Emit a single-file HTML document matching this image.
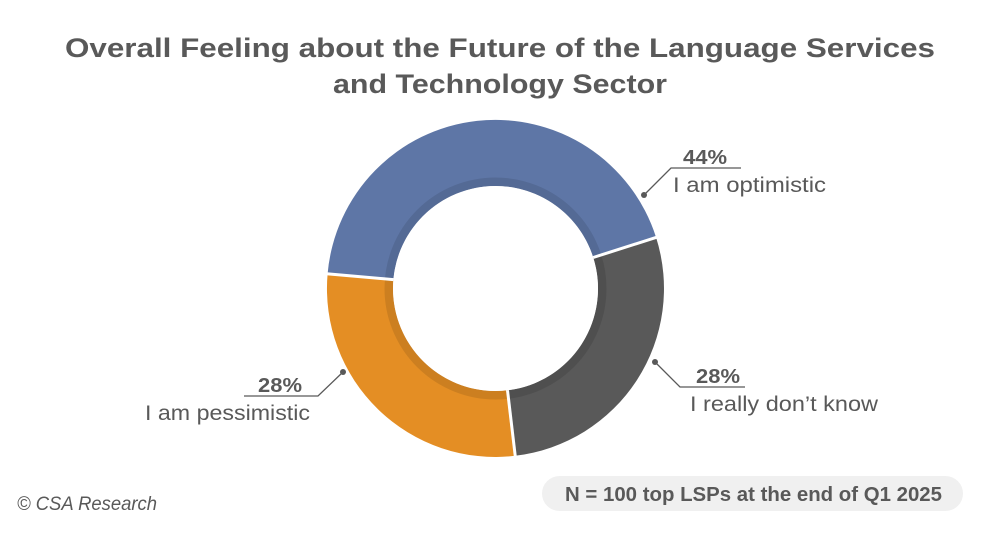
<!DOCTYPE html>
<html><head><meta charset="utf-8"><style>
body{margin:0;background:#fff;width:1000px;height:530px;overflow:hidden}
svg text{font-family:"Liberation Sans","DejaVu Sans",sans-serif;fill:#595959}
</style></head><body>
<svg width="1000" height="530" viewBox="0 0 1000 530">
<text x="65" y="57" font-size="27" font-weight="bold" textLength="870" lengthAdjust="spacingAndGlyphs">Overall Feeling about the Future of the Language Services</text>
<text x="333" y="93" font-size="27" font-weight="bold" textLength="334" lengthAdjust="spacingAndGlyphs">and Technology Sector</text>
<g transform="translate(495.5,288.5)">
<path d="M -167.9 -14.7 A 168.5 168.5 0 0 1 160.6 -51.0 L 97.7 -31.0 A 102.5 102.5 0 0 0 -102.1 -8.9 Z" fill="#5e76a6"/>
<path d="M 160.6 -51.0 A 168.5 168.5 0 0 1 19.7 167.3 L 12.0 101.8 A 102.5 102.5 0 0 0 97.7 -31.0 Z" fill="#595959"/>
<path d="M 19.7 167.3 A 168.5 168.5 0 0 1 -167.9 -14.7 L -102.1 -8.9 A 102.5 102.5 0 0 0 12.0 101.8 Z" fill="#e48e24"/>
<circle r="106.5" fill="none" stroke="#000" stroke-opacity="0.1" stroke-width="9"/>
<g stroke="#fff" stroke-width="3">
<line x1="-102.1" y1="-8.9" x2="-168.9" y2="-14.8"/>
<line x1="97.7" y1="-31.0" x2="161" y2="-51.2"/>
<line x1="12.0" y1="101.8" x2="19.8" y2="168"/>
</g>
<circle r="102.5" fill="#fff"/>
</g>
<g stroke="#595959" stroke-width="1.3" fill="none">
<polyline points="644,195 671,168 741,168"/>
<polyline points="655,362 680,387 745,387"/>
<polyline points="343,372 318,396 244,396"/>
</g>
<g fill="#595959"><circle cx="644" cy="195" r="3"/><circle cx="655" cy="362" r="3"/><circle cx="343" cy="372" r="3"/></g>
<text x="683" y="164" font-size="20" font-weight="bold" textLength="44" lengthAdjust="spacingAndGlyphs">44%</text>
<text x="673" y="192" font-size="21" textLength="153" lengthAdjust="spacingAndGlyphs">I am optimistic</text>
<text x="696" y="383" font-size="20" font-weight="bold" textLength="44" lengthAdjust="spacingAndGlyphs">28%</text>
<text x="690" y="411" font-size="21" textLength="188" lengthAdjust="spacingAndGlyphs">I really don’t know</text>
<text x="258" y="392" font-size="20" font-weight="bold" textLength="44" lengthAdjust="spacingAndGlyphs">28%</text>
<text x="145" y="420" font-size="21" textLength="165" lengthAdjust="spacingAndGlyphs">I am pessimistic</text>
<rect x="542" y="476" width="421" height="35" rx="17.5" fill="#f0f0f0"/>
<text x="565" y="501" font-size="20" font-weight="bold" textLength="377" lengthAdjust="spacingAndGlyphs">N = 100 top LSPs at the end of Q1 2025</text>
<text x="17" y="510" font-size="19" font-style="italic" textLength="140" lengthAdjust="spacingAndGlyphs">© CSA Research</text>
</svg>
</body></html>
